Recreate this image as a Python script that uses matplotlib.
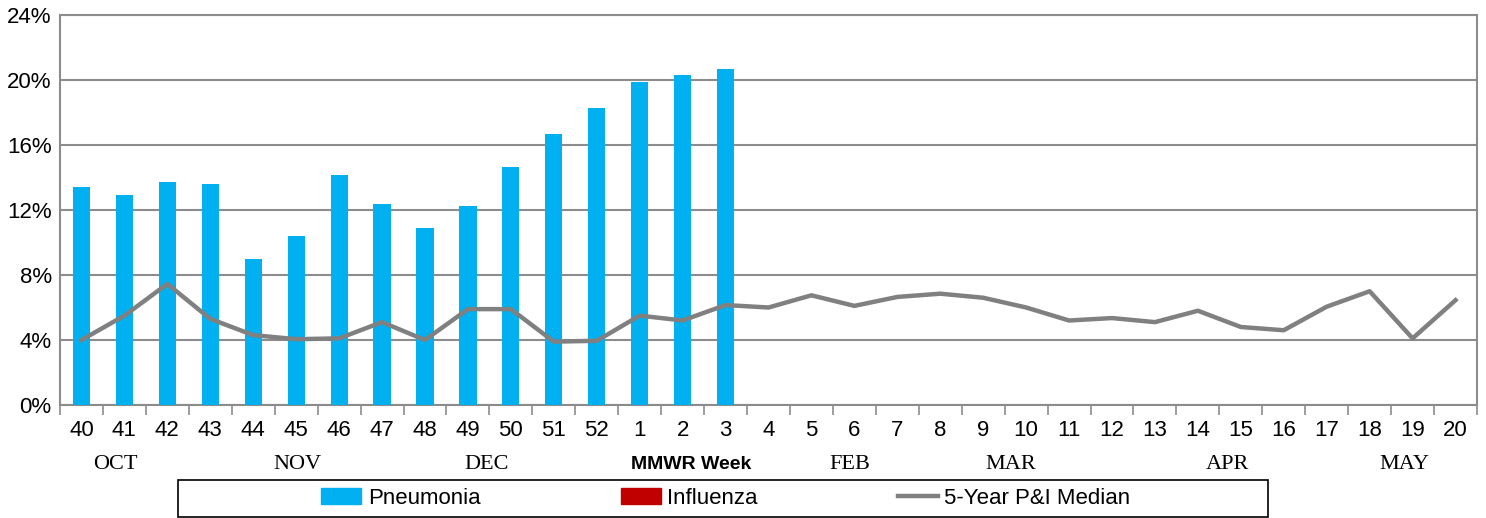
import matplotlib
matplotlib.use("Agg")
import matplotlib.pyplot as plt
from matplotlib.patches import Patch, Rectangle
from matplotlib.lines import Line2D
import numpy as np

weeks = ["40", "41", "42", "43", "44", "45", "46", "47", "48", "49", "50", "51", "52",
         "1", "2", "3", "4", "5", "6", "7", "8", "9", "10", "11", "12", "13", "14",
         "15", "16", "17", "18", "19", "20"]
pneumonia = [13.4, 12.9, 13.7, 13.6, 9.0, 10.4, 14.15, 12.4, 10.9, 12.25, 14.65,
             16.7, 18.3, 19.9, 20.3, 20.7]
influenza = [0.0] * 16
median = [4.0, 5.5, 7.45, 5.3, 4.3, 4.05, 4.1, 5.1, 4.0, 5.9, 5.9, 3.9, 3.95,
          5.5, 5.2, 6.15, 6.0, 6.75, 6.1, 6.65, 6.85, 6.6, 6.0, 5.2, 5.35, 5.1,
          5.8, 4.8, 4.6, 6.05, 7.0, 4.1, 6.45]
yticks = [0, 4, 8, 12, 16, 20, 24]
months = ["OCT", "NOV", "DEC", "FEB", "MAR", "APR", "MAY"]
month_pos = [0.8, 5.04, 9.44, 17.9, 21.65, 26.7, 30.8]

sans = "Liberation Sans"

fig = plt.figure(figsize=(14.86, 5.18), dpi=100)
ax = fig.add_axes([60 / 1486, 1 - 405 / 518, 1417 / 1486, 390 / 518])

x = np.arange(len(weeks))
xb = np.arange(len(pneumonia))
ax.bar(xb, pneumonia, width=0.4, color="#00b0f0", zorder=3)
ax.bar(xb, influenza, width=0.4, bottom=pneumonia, color="#c00000", zorder=3)
ax.plot(x, median, color="#808080", lw=3.2, zorder=4)

ax.set_xlim(-0.5, len(weeks) - 0.5)
ax.set_ylim(0, 24)
ax.set_yticks(yticks)
ax.set_yticklabels([f"{v}%" for v in yticks], fontfamily=sans, fontsize=16)
ax.yaxis.grid(True, color="#8c8c8c", lw=1.5, zorder=0)
ax.tick_params(axis="y", length=0, pad=6)

ax.set_xticks(x)
ax.set_xticklabels(weeks, fontfamily=sans, fontsize=16)
ax.set_xticks(np.arange(-0.5, len(weeks), 1.0), minor=True)
ax.tick_params(axis="x", which="major", length=0, pad=11)
ax.tick_params(axis="x", which="minor", length=7, width=1.2, color="#8c8c8c")

for s in ax.spines.values():
    s.set_color("#8c8c8c")
    s.set_linewidth(1.5)

for m, p in zip(months, month_pos):
    ax.text(p, -0.152, m, transform=ax.get_xaxis_transform(), ha="center", va="center",
            fontfamily="Liberation Serif", fontsize=16)
ax.text(14.2, -0.152, "MMWR Week", transform=ax.get_xaxis_transform(), ha="center",
        va="center", fontfamily=sans, fontsize=14, fontweight="bold")

handles = [Patch(color="#00b0f0"), Patch(color="#c00000"),
           Line2D([0], [0], color="#808080", lw=3.2)]
labels = ["Pneumonia", "Influenza", "5-Year P&I Median"]
fig.patches.append(Rectangle((178 / 1486, 1 - 517 / 518), 1090 / 1486, 37 / 518,
                             transform=fig.transFigure, fill=False, edgecolor="black",
                             lw=1.2))
leg = fig.legend(handles, labels, loc="center", bbox_to_anchor=(726 / 1486, 1 - 498 / 518),
                 ncol=3, frameon=False, prop={"family": sans, "size": 16},
                 columnspacing=6.3, handlelength=1.8, handletextpad=0.3, borderpad=0.2)

fig.savefig("out.png", dpi=100)
